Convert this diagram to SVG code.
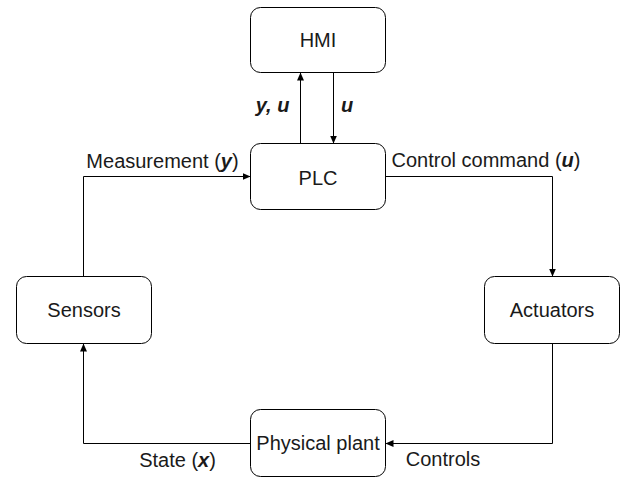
<svg xmlns="http://www.w3.org/2000/svg" width="621" height="478" viewBox="0 0 621 478">
<style>
.box{fill:#fff;stroke:#000;stroke-width:1}
.t{font-family:"Liberation Sans",Arial,sans-serif;font-size:20px;fill:#1a1a1a;text-anchor:middle}
.l{font-family:"Liberation Sans",Arial,sans-serif;font-size:20px;fill:#1a1a1a;text-anchor:middle}
.bi{font-weight:bold;font-style:italic}
.c{fill:none;stroke:#000;stroke-width:1}
</style>
<defs>
<marker id="ah" markerWidth="8" markerHeight="7" refX="8" refY="3.5" orient="auto" markerUnits="userSpaceOnUse">
<path d="M0,0 L8,3.5 L0,7 z" fill="#000"/>
</marker>
</defs>
<g id="connectors">
<path class="c" d="M300.5 143.5 V72.5" marker-end="url(#ah)"/>
<path class="c" d="M333.5 72.5 V143.5" marker-end="url(#ah)"/>
<path class="c" d="M83.5 276.5 V176.5 H250.5" marker-end="url(#ah)"/>
<path class="c" d="M385.5 176.5 H552.5 V276.5" marker-end="url(#ah)"/>
<path class="c" d="M552.5 343.5 V443.5 H385.5" marker-end="url(#ah)"/>
<path class="c" d="M250.5 443.5 H83.5 V343.5" marker-end="url(#ah)"/>
<text class="l" x="272.5" y="112"><tspan class="bi">y, u</tspan></text>
<text class="l" x="347" y="112"><tspan class="bi">u</tspan></text>
<text class="l" x="162.5" y="168">Measurement (<tspan class="bi">y</tspan>)</text>
<text class="l" x="486" y="167">Control command (<tspan class="bi">u</tspan>)</text>
<text class="l" x="177.5" y="467">State (<tspan class="bi">x</tspan>)</text>
<text class="l" x="443" y="466">Controls</text>
</g>
<g id="hmi"><rect class="box" x="250.5" y="7.5" width="135" height="65" rx="10"/><text class="t" x="318" y="47">HMI</text></g>
<g id="plc"><rect class="box" x="250.5" y="143.5" width="135" height="66" rx="10"/><text class="t" x="318" y="184.5">PLC</text></g>
<g id="sensors"><rect class="box" x="16.5" y="276.5" width="135" height="67" rx="10"/><text class="t" x="84" y="317">Sensors</text></g>
<g id="actuators"><rect class="box" x="484.5" y="276.5" width="135" height="67" rx="10"/><text class="t" x="552" y="317">Actuators</text></g>
<g id="plant"><rect class="box" x="250.5" y="409.5" width="135" height="67" rx="10"/><text class="t" x="318" y="450">Physical plant</text></g>
</svg>
